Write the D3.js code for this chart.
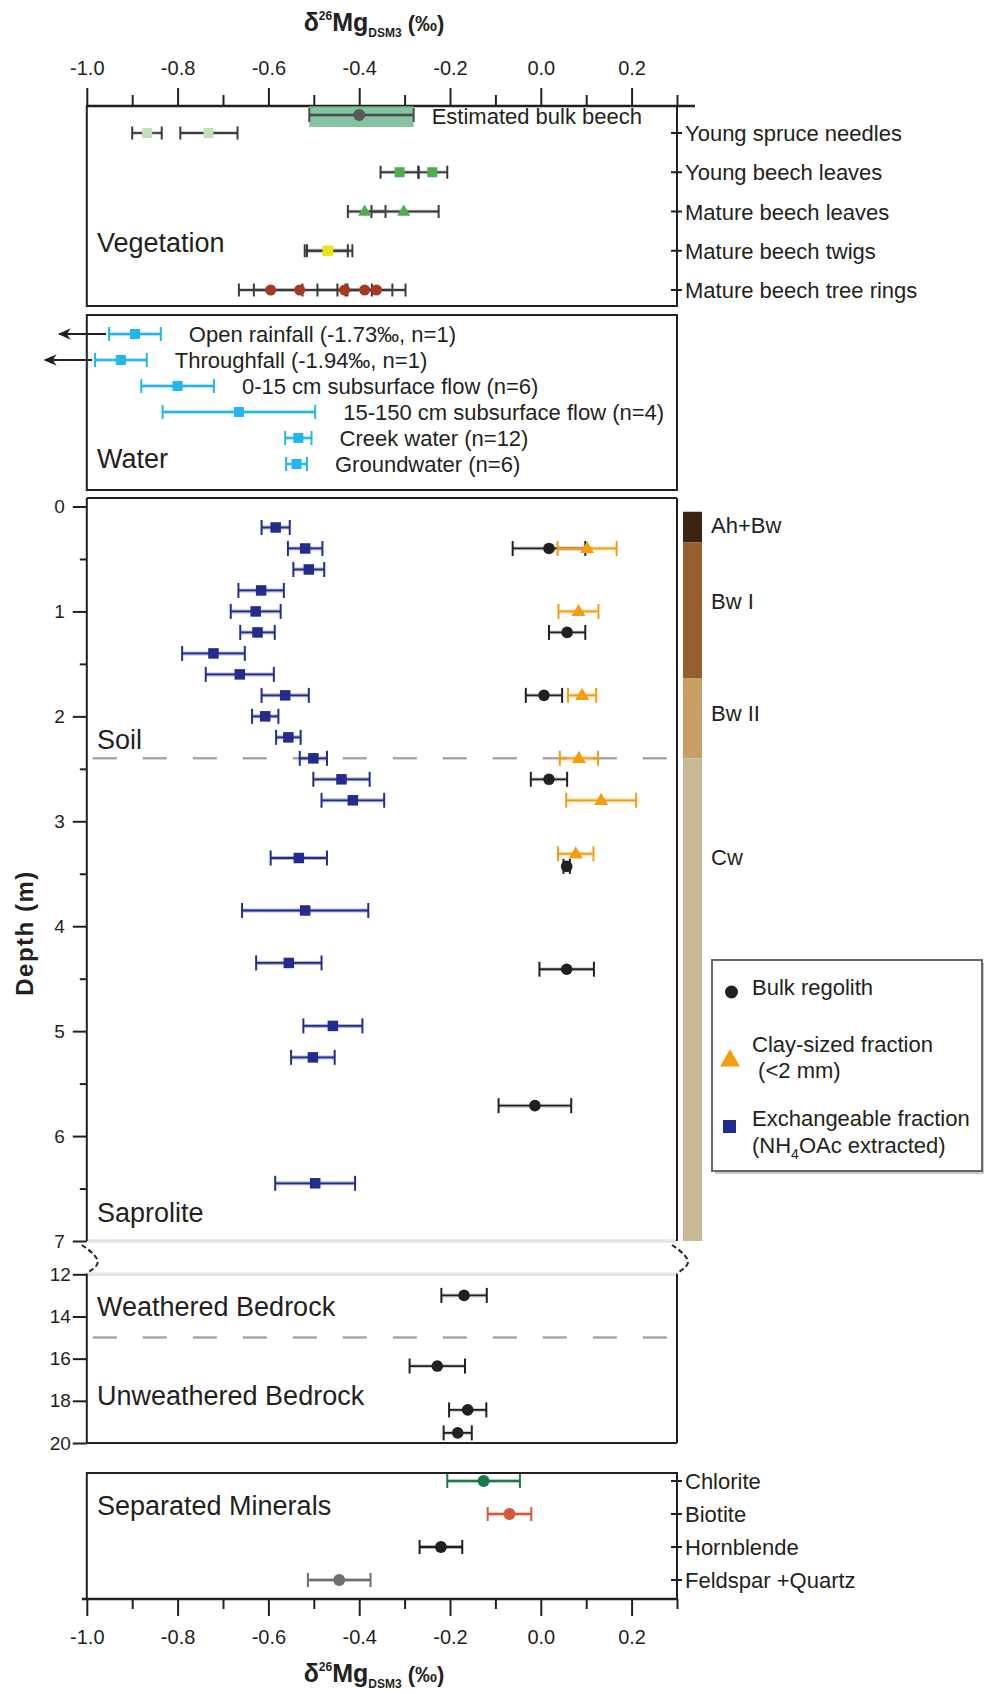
<!DOCTYPE html>
<html>
<head>
<meta charset="utf-8">
<script src="https://cdn.jsdelivr.net/npm/d3@7"></script>
<style>
  body { margin: 0; background: #fff; }
  text { font-family: Arial, "Liberation Sans", Helvetica, sans-serif; fill: #231f20; }
</style>
</head>
<body>
<svg id="chart" width="984" height="1694"></svg>
<script>
// ---------- δ26Mg axis ----------
const deltaTicks = [-1.0, -0.8, -0.6, -0.4, -0.2, 0.0, 0.2];
const deltaMinorTicks = [-0.9, -0.7, -0.5, -0.3, -0.1, 0.1, 0.3];

// ---------- Vegetation (mean, low, high in ‰) ----------
const vegRows = ["Young spruce needles", "Young beech leaves", "Mature beech leaves", "Mature beech twigs", "Mature beech tree rings"];
const bulkBeech = [-0.40, -0.51, -0.28];
const spruceNeedles = [[-0.867, -0.900, -0.835], [-0.732, -0.794, -0.668]];
const youngBeechLeaves = [[-0.311, -0.353, -0.269], [-0.239, -0.270, -0.206]];
const matureBeechLeaves = [[-0.388, -0.425, -0.342], [-0.302, -0.373, -0.225]];
const matureBeechTwigs = [[-0.468, -0.520, -0.415], [-0.470, -0.515, -0.425]];
const treeRings = [[-0.595, -0.665, -0.525], [-0.531, -0.632, -0.430], [-0.432, -0.492, -0.372], [-0.388, -0.448, -0.327], [-0.362, -0.426, -0.298]];

// ---------- Water ----------
const waterNames = ["Open rainfall", "Throughfall", "0-15 cm subsurface flow", "15-150 cm subsurface flow", "Creek water", "Groundwater"];
const waterMean = [-1.73, -1.94, -0.800, -0.665, -0.534, -0.538];
const waterErr = [0.057, 0.057, 0.080, 0.168, 0.029, 0.023];
const waterN = [1, 1, 6, 4, 12, 6];
// samples below the axis minimum are drawn at these stand-in values with an arrow
const waterOffScaleAt = [-0.894, -0.925];

// ---------- Regolith profile (depth in m) ----------
const exchDepth = [0.2, 0.4, 0.6, 0.8, 1.0, 1.2, 1.4, 1.6, 1.8, 2.0, 2.2, 2.4, 2.6, 2.8, 3.35, 3.85, 4.35, 4.95, 5.25, 6.45];
const exchValue = [-0.584, -0.519, -0.511, -0.616, -0.628, -0.624, -0.721, -0.663, -0.563, -0.607, -0.556, -0.501, -0.439, -0.414, -0.533, -0.519, -0.555, -0.458, -0.502, -0.497];
const exchErr = [0.031, 0.038, 0.034, 0.050, 0.055, 0.038, 0.069, 0.075, 0.052, 0.029, 0.027, 0.030, 0.062, 0.069, 0.062, 0.139, 0.072, 0.065, 0.048, 0.088];

const bulkDepth = [0.4, 1.2, 1.8, 2.6, 3.43, 4.41, 5.71, 13.0, 16.35, 18.43, 19.52];
const bulkValue = [0.018, 0.058, 0.007, 0.018, 0.057, 0.057, -0.013, -0.169, -0.228, -0.161, -0.183];
const bulkErr = [0.080, 0.040, 0.040, 0.040, 0.007, 0.060, 0.080, 0.050, 0.061, 0.041, 0.031];

const clayDepth = [0.4, 1.0, 1.8, 2.4, 2.8, 3.31];
const clayValue = [0.102, 0.083, 0.091, 0.084, 0.133, 0.077];
const clayErr = [0.065, 0.044, 0.031, 0.042, 0.077, 0.039];

const horizonNames = ["Ah+Bw", "Bw I", "Bw II", "Cw"];
const horizonTop = [0.05, 0.34, 1.64, 2.40];
const horizonBase = [0.34, 1.64, 2.40, 7.0];
const soilBoundary = 2.4;      // soil / saprolite
const bedrockBoundary = 15;    // weathered / unweathered bedrock

const depthTicksUpper = [0, 1, 2, 3, 4, 5, 6, 7];
const depthMinorUpper = [0.5, 1.5, 2.5, 3.5, 4.5, 5.5, 6.5];
const depthTicksLower = [12, 14, 16, 18, 20];

// ---------- Separated minerals ----------
const mineralNames = ["Chlorite", "Biotite", "Hornblende", "Feldspar +Quartz"];
const mineralValue = [-0.126, -0.069, -0.220, -0.444];
const mineralErr = [0.080, 0.048, 0.047, 0.069];

// ---------- styling ----------
const INK = "#231f20";
const C = {
  spruce: "#c3dfb8", youngBeech: "#4cae4f", matureLeaves: "#4cae4f", twigs: "#e8e21c",
  rings: "#a63a20", bulkBeechFill: "#5daf80", bulkBeechDot: "#58595b",
  water: "#23b5ec", exch: "#232c8d", bulk: "#231f20", clay: "#f59d0e",
  minerals: ["#1b7a4b", "#d35a3b", "#231f20", "#6d6e71"],
  horizons: ["#3c2414", "#95602f", "#c9a063", "#c9b995"]
};

const svg = d3.select("#chart");
const xL = 86.8, xR = 677;
const x = d3.scaleLinear().domain([-1.0, 0.3]).range([xL, xR]);

const panel = { veg: [106, 306], water: [315, 490], soil: [498, 1443], min: [1473, 1599] };
const ySoil = d3.scaleLinear().domain([0, 7]).range([506.5, 1241]);
const yDeep = d3.scaleLinear().domain([12, 20]).range([1274.3, 1443]);
const yDepth = d => d <= 7 ? ySoil(d) : yDeep(d);

const yVeg = d3.scalePoint().domain(vegRows).range([133, 290]);
const yWater = d3.scalePoint().domain(waterNames).range([334, 464]);
const yMin = d3.scalePoint().domain(mineralNames).range([1481, 1580]);

// ---------- helpers ----------
function errorBar(g, lo, hi, cy, color, cap, halo) {
  const grp = g.append("g");
  grp.append("line").attr("x1", x(lo)).attr("x2", x(hi)).attr("y1", cy).attr("y2", cy)
    .attr("stroke", halo || color).attr("stroke-opacity", 0.35).attr("stroke-width", 4);
  grp.append("line").attr("x1", x(lo)).attr("x2", x(hi)).attr("y1", cy).attr("y2", cy)
    .attr("stroke", color).attr("stroke-width", 1.8);
  [lo, hi].forEach(v => grp.append("line")
    .attr("x1", x(v)).attr("x2", x(v)).attr("y1", cy - cap).attr("y2", cy + cap)
    .attr("stroke", color).attr("stroke-width", 2));
}
function square(g, cx, cy, s, fill) {
  g.append("rect").attr("x", cx - s / 2).attr("y", cy - s / 2).attr("width", s).attr("height", s).attr("fill", fill);
}
function dot(g, cx, cy, r, fill) {
  g.append("circle").attr("cx", cx).attr("cy", cy).attr("r", r).attr("fill", fill);
}
function tri(g, cx, cy, side, fill) {
  const h = side * Math.sqrt(3) / 2;
  g.append("path").attr("d", `M${cx},${cy - h * 0.62}L${cx + side / 2},${cy + h * 0.38}L${cx - side / 2},${cy + h * 0.38}Z`).attr("fill", fill);
}
function label(g, tx, ty, str, size, anchor) {
  return g.append("text").attr("x", tx).attr("y", ty).attr("font-size", size)
    .attr("text-anchor", anchor || "start").text(str);
}
function box(y0, y1) {
  svg.append("rect").attr("x", xL).attr("y", y0).attr("width", xR - xL).attr("height", y1 - y0)
    .attr("fill", "none").attr("stroke", INK).attr("stroke-width", 2);
}
function axisTitle(y) {
  const t = svg.append("text").attr("x", 374).attr("y", y).attr("text-anchor", "middle")
    .attr("font-weight", "bold").attr("font-size", 25);
  t.append("tspan").text("δ");
  t.append("tspan").attr("font-size", 12).attr("dy", -11).text("26");
  t.append("tspan").attr("dy", 11).text("Mg");
  t.append("tspan").attr("font-size", 12).attr("dy", 6).text("DSM3");
  t.append("tspan").attr("font-size", 22).attr("dy", -6).text(" (‰)");
}
function rightTicks(scale, names) {
  names.forEach(n => svg.append("line").attr("x1", xR - 6).attr("x2", xR + 5)
    .attr("y1", scale(n)).attr("y2", scale(n)).attr("stroke", INK).attr("stroke-width", 2));
}

// ---------- top and bottom δ axes ----------
axisTitle(31);
const topMajor = svg.append("g").attr("transform", `translate(0,${panel.veg[0]})`)
  .call(d3.axisTop(x).tickValues(deltaTicks).tickSize(18).tickPadding(13).tickFormat(d => d.toFixed(1)));
const topMinor = svg.append("g").attr("transform", `translate(0,${panel.veg[0]})`)
  .call(d3.axisTop(x).tickValues(deltaMinorTicks).tickSize(11).tickFormat(""));
const botMajor = svg.append("g").attr("transform", `translate(0,${panel.min[1]})`)
  .call(d3.axisBottom(x).tickValues(deltaTicks).tickSize(17).tickPadding(14).tickFormat(d => d.toFixed(1)));
const botMinor = svg.append("g").attr("transform", `translate(0,${panel.min[1]})`)
  .call(d3.axisBottom(x).tickValues(deltaMinorTicks).tickSize(10).tickFormat(""));
[topMajor, topMinor, botMajor, botMinor].forEach(a => {
  a.select(".domain").remove();
  a.selectAll("line").attr("stroke", INK).attr("stroke-width", 2);
  a.selectAll("text").attr("font-size", 20).attr("fill", INK).attr("font-family", null);
});
svg.append("line").attr("x1", xL).attr("x2", xR + 18).attr("y1", panel.veg[0]).attr("y2", panel.veg[0])
  .attr("stroke", INK).attr("stroke-width", 2.5);
svg.append("line").attr("x1", xL - 5).attr("x2", xR).attr("y1", panel.min[1]).attr("y2", panel.min[1])
  .attr("stroke", INK).attr("stroke-width", 2.5);
axisTitle(1682);

// ---------- Vegetation panel ----------
box(panel.veg[0], panel.veg[1]);
const gVeg = svg.append("g");
{
  const cy = 115;
  gVeg.append("rect").attr("x", x(bulkBeech[1])).attr("y", cy - 9).attr("width", x(bulkBeech[2]) - x(bulkBeech[1]))
    .attr("height", 21).attr("fill", C.bulkBeechFill).attr("fill-opacity", 0.75);
  errorBar(gVeg, bulkBeech[1], bulkBeech[2], cy, "#4d4d4f", 7);
  dot(gVeg, x(bulkBeech[0]), cy, 6, C.bulkBeechDot);
  label(gVeg, x(bulkBeech[2]) + 18, cy + 9, "Estimated bulk beech", 22);
}
const vegGroups = [
  [spruceNeedles, "sq", C.spruce], [youngBeechLeaves, "sq", C.youngBeech],
  [matureBeechLeaves, "tri", C.matureLeaves], [matureBeechTwigs, "sq", C.twigs], [treeRings, "dot", C.rings]
];
vegGroups.forEach(([rows, kind, col], i) => {
  const cy = yVeg(vegRows[i]);
  rows.forEach(r => errorBar(gVeg, r[1], r[2], cy, "#3a3a3a", 6.5, "#888"));
  rows.forEach(r => {
    if (kind === "sq") square(gVeg, x(r[0]), cy, 10, col);
    else if (kind === "tri") tri(gVeg, x(r[0]), cy, 13, col);
    else dot(gVeg, x(r[0]), cy, 5.5, col);
  });
  label(svg, 685, cy + 8, vegRows[i], 22);
});
rightTicks(yVeg, vegRows);
label(svg, 97, 252, "Vegetation", 27);

// ---------- Water panel ----------
box(panel.water[0], panel.water[1]);
const gW = svg.append("g");
svg.append("defs").append("marker").attr("id", "arrowhead").attr("viewBox", "0 0 10 10")
  .attr("refX", 9).attr("refY", 5).attr("markerWidth", 13).attr("markerHeight", 13)
  .attr("markerUnits", "userSpaceOnUse").attr("orient", "auto")
  .append("path").attr("d", "M10,5L0,0.5L3,5L0,9.5Z").attr("fill", INK);
waterNames.forEach((n, i) => {
  const cy = yWater(n);
  const offScale = waterMean[i] < x.domain()[0];
  const at = offScale ? waterOffScaleAt[i] : waterMean[i];
  const lo = at - waterErr[i], hi = at + waterErr[i];
  errorBar(gW, lo, hi, cy, C.water, 7);
  square(gW, x(at), cy, 10, C.water);
  if (offScale) {
    gW.append("line").attr("x1", x(lo) - 3).attr("x2", x(lo) - 50).attr("y1", cy).attr("y2", cy)
      .attr("stroke", INK).attr("stroke-width", 2.2).attr("marker-end", "url(#arrowhead)");
  }
  const txt = offScale ? `${n} (${waterMean[i].toFixed(2)}‰, n=${waterN[i]})` : `${n} (n=${waterN[i]})`;
  label(gW, x(hi) + 28, cy + 8, txt, 22);
});
label(svg, 97, 468, "Water", 27);

// ---------- Regolith panel ----------
const gS = svg.append("g");
// soil horizon bar
horizonNames.forEach((n, i) => {
  gS.append("rect").attr("x", 683).attr("width", 19)
    .attr("y", ySoil(horizonTop[i])).attr("height", ySoil(horizonBase[i]) - ySoil(horizonTop[i]))
    .attr("fill", C.horizons[i]);
  const h = horizonBase[i] - horizonTop[i];
  label(gS, 711, ySoil(horizonTop[i] + Math.min(h * 0.43, 0.94)) + 8, n, 22);
});
// broken depth axis: white gap with light rules
[7, 12].forEach(d => gS.append("line").attr("x1", xL).attr("x2", xR)
  .attr("y1", yDepth(d)).attr("y2", yDepth(d)).attr("stroke", "#e4e4e4").attr("stroke-width", 3.5));
// dashed boundaries
[soilBoundary, bedrockBoundary].forEach(d => gS.append("line").attr("x1", xL + 2).attr("x2", xR)
  .attr("y1", yDepth(d)).attr("y2", yDepth(d)).attr("stroke", "#a7a7a7").attr("stroke-width", 2.5)
  .attr("stroke-dasharray", "24,26").attr("stroke-dashoffset", -4));
// frame
const frame = [[panel.soil[0], yDepth(7)], [yDepth(12), panel.soil[1]]];
gS.append("line").attr("x1", xL).attr("x2", xR).attr("y1", panel.soil[0]).attr("y2", panel.soil[0]).attr("stroke", INK).attr("stroke-width", 2);
gS.append("line").attr("x1", xL).attr("x2", xR).attr("y1", panel.soil[1]).attr("y2", panel.soil[1]).attr("stroke", INK).attr("stroke-width", 2);
frame.forEach(([a, b]) => [xL, xR].forEach(xx => gS.append("line").attr("x1", xx).attr("x2", xx)
  .attr("y1", a).attr("y2", b).attr("stroke", INK).attr("stroke-width", 2)));
// break marks
[xL, xR].forEach(x0 => {
  const y7 = yDepth(7), y12 = yDepth(12);
  gS.append("path")
    .attr("d", `M${x0 - 5},${y7 + 4} C${x0 + 4},${y7 + 10} ${x0 + 14},${y7 + 18} ${x0 + 10},${y7 + 24} C${x0 + 7},${y7 + 28} ${x0 + 2},${y12 - 3} ${x0},${y12}`)
    .attr("fill", "none").attr("stroke", INK).attr("stroke-width", 2).attr("stroke-dasharray", "5,3");
});
// depth axes
const axU = gS.append("g").attr("transform", `translate(${xL},0)`)
  .call(d3.axisLeft(ySoil).tickValues(depthTicksUpper).tickSize(14).tickPadding(8).tickFormat(d3.format("d")));
const axUm = gS.append("g").attr("transform", `translate(${xL},0)`)
  .call(d3.axisLeft(ySoil).tickValues(depthMinorUpper).tickSize(7).tickFormat(""));
const axL = gS.append("g").attr("transform", `translate(${xL},0)`)
  .call(d3.axisLeft(yDeep).tickValues(depthTicksLower).tickSize(14).tickPadding(2).tickFormat(d3.format("d")));
[axU, axUm, axL].forEach(a => {
  a.select(".domain").remove();
  a.selectAll("line").attr("stroke", INK).attr("stroke-width", 2);
  a.selectAll("text").attr("font-size", 19).attr("fill", INK).attr("font-family", null);
});
svg.append("text").attr("transform", "translate(33,933) rotate(-90)").attr("text-anchor", "middle")
  .attr("font-weight", "bold").attr("font-size", 24).attr("letter-spacing", 1.5).text("Depth (m)");

// samples
exchDepth.forEach((d, i) => errorBar(gS, exchValue[i] - exchErr[i], exchValue[i] + exchErr[i], yDepth(d), C.exch, 7.5));
exchDepth.forEach((d, i) => square(gS, x(exchValue[i]), yDepth(d), 10.5, C.exch));
bulkDepth.forEach((d, i) => errorBar(gS, bulkValue[i] - bulkErr[i], bulkValue[i] + bulkErr[i], yDepth(d), C.bulk, 7.5, "#777"));
bulkDepth.forEach((d, i) => dot(gS, x(bulkValue[i]), yDepth(d), 5.8, C.bulk));
clayDepth.forEach((d, i) => errorBar(gS, clayValue[i] - clayErr[i], clayValue[i] + clayErr[i], yDepth(d), C.clay, 7.5));
clayDepth.forEach((d, i) => tri(gS, x(clayValue[i]), yDepth(d), 14, C.clay));

label(svg, 97, 749, "Soil", 27);
label(svg, 97, 1222, "Saprolite", 27);
label(svg, 97, 1316, "Weathered Bedrock", 27);
label(svg, 97, 1405, "Unweathered Bedrock", 27);

// legend
const gLeg = svg.append("g");
gLeg.append("rect").attr("x", 715).attr("y", 963).attr("width", 270).attr("height", 211).attr("fill", "#c8c8c8");
gLeg.append("rect").attr("x", 712).attr("y", 960).attr("width", 270).attr("height", 211)
  .attr("fill", "#fff").attr("stroke", "#58595b").attr("stroke-width", 1.8);
dot(gLeg, 731.5, 992, 6.5, C.bulk);
label(gLeg, 752, 995, "Bulk regolith", 22);
tri(gLeg, 730, 1060, 20, C.clay);
label(gLeg, 752, 1052, "Clay-sized fraction", 22);
label(gLeg, 752, 1078, " (<2 mm)", 22).attr("xml:space", "preserve");
square(gLeg, 729.5, 1126.5, 13, C.exch);
label(gLeg, 752, 1126, "Exchangeable fraction", 22);
{
  const t = label(gLeg, 752, 1153, "(NH", 22);
  t.append("tspan").attr("font-size", 14).attr("dy", 6).text("4");
  t.append("tspan").attr("dy", -6).text("OAc extracted)");
}

// ---------- Separated minerals ----------
box(panel.min[0], panel.min[1]);
const gM = svg.append("g");
mineralNames.forEach((n, i) => {
  const cy = yMin(n);
  errorBar(gM, mineralValue[i] - mineralErr[i], mineralValue[i] + mineralErr[i], cy, C.minerals[i], 7);
  dot(gM, x(mineralValue[i]), cy, 6, C.minerals[i]);
  label(svg, 685, cy + 8, n, 22);
});
rightTicks(yMin, mineralNames);
label(svg, 97, 1515, "Separated Minerals", 27);
</script>
</body>
</html>
